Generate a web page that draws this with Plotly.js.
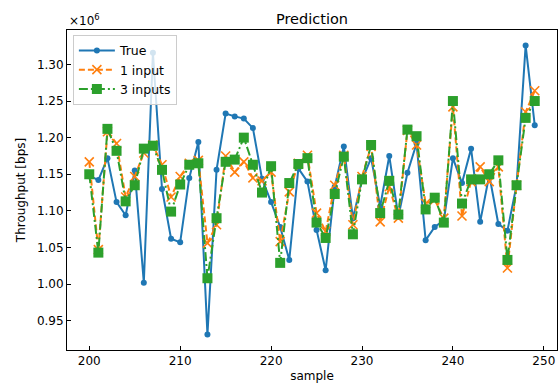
<!DOCTYPE html>
<html>
<head>
<meta charset="utf-8">
<script src="https://cdn.plot.ly/plotly-3.0.1.min.js"></script>
<style>html,body{margin:0;padding:0;background:#fff;}#chart{width:558px;height:387px;}</style>
</head>
<body>
<div id="chart"></div>
<script>
// sample indices 200..249
const samples = [200,201,202,203,204,205,206,207,208,209,210,211,212,213,214,215,216,217,218,219,220,221,222,223,224,225,226,227,228,229,230,231,232,233,234,235,236,237,238,239,240,241,242,243,244,245,246,247,248,249];

// throughput in units of 10^6 bps
const trueVals = [1.148,1.142,1.172,1.112,1.094,1.155,1.002,1.316,1.130,1.062,1.057,1.145,1.194,0.931,1.156,1.233,1.229,1.226,1.213,1.144,1.112,1.078,1.033,1.158,1.140,1.074,1.019,1.133,1.188,1.090,1.142,1.172,1.106,1.175,1.092,1.152,1.192,1.060,1.078,1.087,1.172,1.138,1.185,1.085,1.149,1.082,1.073,1.135,1.326,1.217];

const oneInput = [1.167,1.047,1.208,1.192,1.119,1.147,1.179,1.190,1.163,1.119,1.147,1.165,1.169,1.056,1.081,1.175,1.153,1.167,1.145,1.141,1.153,1.058,1.126,1.165,1.176,1.097,1.072,1.135,1.176,1.081,1.147,1.188,1.085,1.133,1.090,1.210,1.190,1.110,1.115,1.090,1.242,1.093,1.140,1.160,1.140,1.160,1.022,1.135,1.235,1.264];

const threeInputs = [1.150,1.043,1.212,1.182,1.113,1.135,1.185,1.189,1.156,1.099,1.136,1.163,1.165,1.008,1.090,1.167,1.170,1.200,1.163,1.125,1.161,1.029,1.138,1.164,1.172,1.084,1.063,1.123,1.174,1.068,1.143,1.190,1.097,1.141,1.095,1.211,1.202,1.102,1.118,1.084,1.250,1.110,1.143,1.143,1.150,1.169,1.033,1.135,1.227,1.250];

const xTicks = [200,210,220,230,240,250];
const yTicks = [0.95,1.00,1.05,1.10,1.15,1.20,1.25,1.30];

const font = {family: 'DejaVu Sans, sans-serif', size: 12, color: '#000'};

const traces = [
  {x: samples, y: trueVals, name: 'True', type: 'scatter', mode: 'lines+markers',
   line: {color: '#1f77b4', width: 2}, marker: {symbol: 'circle', size: 6, color: '#1f77b4'}},
  {x: samples, y: oneInput, name: '1 input', type: 'scatter', mode: 'lines+markers',
   line: {color: '#ff7f0e', width: 2, dash: '6px,3px'}, marker: {symbol: 'x-thin', size: 9, color: '#ff7f0e', line: {color: '#ff7f0e', width: 1.6}}},
  {x: samples, y: threeInputs, name: '3 inputs', type: 'scatter', mode: 'lines+markers',
   line: {color: '#2ca02c', width: 2, dash: '9px,3px,2px,3px'}, marker: {symbol: 'square', size: 10, color: '#2ca02c'}}
];

const layout = {
  width: 558, height: 387,
  margin: {l: 67, r: 1, t: 30, b: 37},
  paper_bgcolor: '#fff', plot_bgcolor: '#fff',
  font: font,
  showlegend: true,
  title: {text: 'Prediction', font: {family: 'DejaVu Sans, sans-serif', size: 14.5, color: '#000'}, xref: 'paper', yref: 'paper', x: 0.5, xanchor: 'center', y: 1, yanchor: 'bottom', pad: {b: 6}},
  xaxis: {
    range: [197.55, 251.45], tickvals: xTicks, ticktext: xTicks.map(String),
    ticks: 'inside', ticklen: 4, tickcolor: '#000', tickwidth: 1,
    showline: true, mirror: true, linecolor: '#000', linewidth: 1,
    showgrid: false, zeroline: false,
    title: {text: 'sample', font: font, standoff: 4},
    tickfont: font
  },
  yaxis: {
    range: [0.910, 1.347], tickvals: yTicks, ticktext: yTicks.map(v => v.toFixed(2)),
    ticks: 'inside', ticklen: 4, tickcolor: '#000', tickwidth: 1,
    showline: true, mirror: true, linecolor: '#000', linewidth: 1,
    showgrid: false, zeroline: false,
    title: {text: 'Throughput [bps]', font: font, standoff: 8},
    tickfont: font
  },
  legend: {
    x: 0.012, y: 0.985, xanchor: 'left', yanchor: 'top',
    bgcolor: 'rgba(255,255,255,0.8)', bordercolor: '#cccccc', borderwidth: 1,
    font: {family: 'DejaVu Sans, sans-serif', size: 12.5, color: '#000'}, itemwidth: 36, tracegroupgap: 0
  },
  annotations: [{
    xref: 'paper', yref: 'paper', x: 0, y: 1, xanchor: 'left', yanchor: 'bottom',
    text: '×10<sup>6</sup>', showarrow: false, font: font, yshift: 0
  }]
};

Plotly.newPlot('chart', traces, layout, {displayModeBar: false, staticPlot: true});
</script>
</body>
</html>
